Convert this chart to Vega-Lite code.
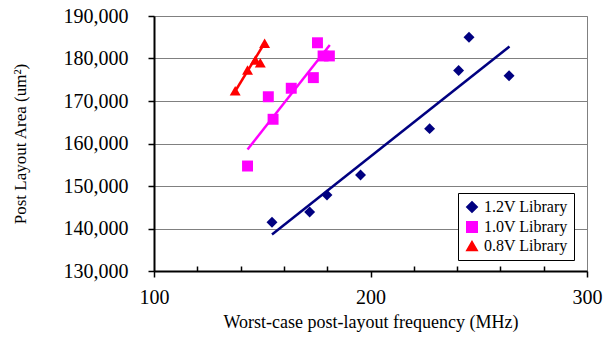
{
  "$schema": "https://vega.github.io/schema/vega-lite/v6.json",
  "width": 433,
  "height": 255,
  "autosize": {"type": "none"},
  "padding": {"left": 154, "top": 16, "right": 17, "bottom": 68},
  "background": "white",
  "config": {
    "font": "'Liberation Serif', 'Times New Roman', serif",
    "view": {"stroke": "#808080", "strokeWidth": 1}
  },
  "datasets": {
    "points": [
      {"lib": "1.2V Library", "freq": 245.5, "area": 185000},
      {"lib": "1.2V Library", "freq": 240.7, "area": 177200},
      {"lib": "1.2V Library", "freq": 264.0, "area": 175950},
      {"lib": "1.2V Library", "freq": 227.3, "area": 163500},
      {"lib": "1.2V Library", "freq": 195.4, "area": 152600},
      {"lib": "1.2V Library", "freq": 179.9, "area": 147900},
      {"lib": "1.2V Library", "freq": 171.9, "area": 143900},
      {"lib": "1.2V Library", "freq": 154.5, "area": 141450},
      {"lib": "1.0V Library", "freq": 175.5, "area": 183700},
      {"lib": "1.0V Library", "freq": 178.1, "area": 180600},
      {"lib": "1.0V Library", "freq": 181.0, "area": 180600},
      {"lib": "1.0V Library", "freq": 173.6, "area": 175500},
      {"lib": "1.0V Library", "freq": 163.4, "area": 173000},
      {"lib": "1.0V Library", "freq": 152.8, "area": 171000},
      {"lib": "1.0V Library", "freq": 155.0, "area": 165700},
      {"lib": "1.0V Library", "freq": 143.2, "area": 154700},
      {"lib": "0.8V Library", "freq": 137.5, "area": 172400},
      {"lib": "0.8V Library", "freq": 143.2, "area": 177300},
      {"lib": "0.8V Library", "freq": 146.8, "area": 179650},
      {"lib": "0.8V Library", "freq": 149.1, "area": 179000},
      {"lib": "0.8V Library", "freq": 151.1, "area": 183600}
    ],
    "trend": [
      {"lib": "1.2V Library", "freq": 154.5, "area": 138600},
      {"lib": "1.2V Library", "freq": 264.2, "area": 182800},
      {"lib": "1.0V Library", "freq": 143.2, "area": 158600},
      {"lib": "1.0V Library", "freq": 181.2, "area": 183200},
      {"lib": "0.8V Library", "freq": 137.5, "area": 172300},
      {"lib": "0.8V Library", "freq": 151.5, "area": 184000}
    ]
  },
  "layer": [
    {
      "data": {"name": "trend"},
      "mark": {"type": "line", "strokeWidth": 2.5},
      "encoding": {
        "x": {"field": "freq", "type": "quantitative"},
        "y": {"field": "area", "type": "quantitative"},
        "detail": {"field": "lib"},
        "color": {"field": "lib", "type": "nominal",
          "scale": {"domain": ["1.2V Library", "1.0V Library", "0.8V Library"], "range": ["#000080", "#FF00FF", "#FF0000"]}}
      }
    },
    {
      "data": {"name": "points"},
      "mark": {"type": "point", "filled": true, "opacity": 1, "size": 120},
      "encoding": {
        "x": {
          "field": "freq", "type": "quantitative",
          "scale": {"domain": [100, 300], "nice": false, "zero": false},
          "axis": {
            "title": "Worst-case post-layout frequency (MHz)",
            "titleFont": "'Liberation Serif', serif", "titleFontSize": 18, "titleFontWeight": "normal", "titleColor": "black", "titlePadding": 6,
            "values": [100,110,120,130,140,150,160,170,180,190,200,210,220,230,240,250,260,270,280,290,300],
            "labelExpr": "datum.value % 50 === 0 ? format(datum.value, 'd') : ''",
            "labelFont": "'Liberation Serif', serif", "labelFontSize": 20, "labelColor": "black", "labelPadding": 10,
            "labelFlush": false, "labelOverlap": false,
            "grid": false,
            "domainColor": "black", "domainWidth": 2,
            "tickColor": "black", "tickWidth": 1.5,
            "tickSize": {"condition": {"test": "datum.value % 50 === 0", "value": 6}, "value": -5}
          }
        },
        "y": {
          "field": "area", "type": "quantitative",
          "scale": {"domain": [130000, 190000], "nice": false, "zero": false},
          "axis": {
            "title": "Post Layout Area (um²)",
            "titleFont": "'Liberation Serif', serif", "titleFontSize": 17, "titleFontWeight": "normal", "titleColor": "black", "titlePadding": 34,
            "values": [130000,135000,140000,145000,150000,155000,160000,165000,170000,175000,180000,185000,190000],
            "labelExpr": "datum.value % 10000 === 0 ? format(datum.value, ',') : ''",
            "labelFont": "'Liberation Serif', serif", "labelFontSize": 20, "labelColor": "black", "labelPadding": 20,
            "labelFlush": false, "labelOverlap": false,
            "grid": true, "gridColor": "#808080", "gridWidth": 1,
            "gridOpacity": {"condition": {"test": "datum.value % 10000 === 0", "value": 1}, "value": 0},
            "domainColor": "black", "domainWidth": 2,
            "tickColor": "black", "tickWidth": 1.5,
            "tickSize": {"condition": {"test": "datum.value % 10000 === 0", "value": 6}, "value": -5}
          }
        },
        "color": {"field": "lib", "type": "nominal",
          "scale": {"domain": ["1.2V Library", "1.0V Library", "0.8V Library"], "range": ["#000080", "#FF00FF", "#FF0000"]},
          "legend": {
            "title": null, "orient": "none", "legendX": 304, "legendY": 177,
            "strokeColor": "black", "fillColor": "white", "padding": 6,
            "labelFont": "'Liberation Serif', serif", "labelFontSize": 16, "labelColor": "black",
            "symbolSize": 110, "rowPadding": 2, "symbolOpacity": 1
          }
        },
        "shape": {"field": "lib", "type": "nominal",
          "scale": {"domain": ["1.2V Library", "1.0V Library", "0.8V Library"], "range": ["diamond", "square", "triangle-up"]},
          "legend": {
            "title": null, "orient": "none", "legendX": 304, "legendY": 177,
            "strokeColor": "black", "fillColor": "white", "padding": 6,
            "labelFont": "'Liberation Serif', serif", "labelFontSize": 16, "labelColor": "black",
            "symbolSize": 110, "rowPadding": 2, "symbolOpacity": 1
          }
        }
      }
    }
  ]
}
